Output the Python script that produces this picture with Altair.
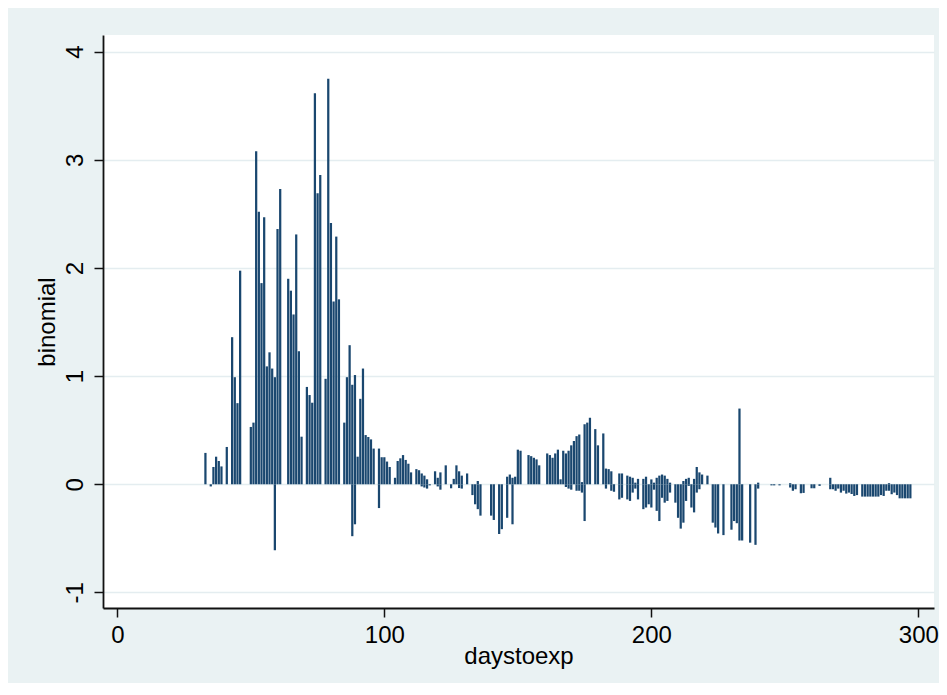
import altair as alt
import pandas as pd

# main observation per day (daystoexp, binomial)
days = [33, 35, 36, 37, 38, 39, 41, 43, 44, 45, 46,
        50, 51, 52, 53, 54, 55, 56, 57, 58, 59, 60, 61,
        64, 65, 66, 67, 68, 69, 71, 72, 73, 74, 75, 76, 78, 79, 80, 81, 82, 83,
        85, 86, 87, 88, 89, 90, 91, 92, 93, 94, 95, 96,
        98, 99, 100, 101, 102, 104, 105, 106, 107, 108, 109, 110,
        112, 113, 114, 115, 116, 117, 119, 120, 121, 123, 125, 126, 127, 128, 129, 131,
        133, 134, 135, 136, 140, 141, 143, 144,
        146, 147, 148, 149, 150, 151, 154, 155, 156, 157, 158,
        161, 162, 163, 164, 165, 166, 167, 168, 169, 170, 171, 172, 173, 174,
        175, 176, 177, 179, 180, 182, 183, 184, 185, 186,
        188, 189, 191, 192, 193, 194, 195, 197, 198, 199, 200, 201,
        202, 203, 204, 205, 206, 207, 209, 210, 211, 212, 213, 214, 215, 216, 217, 218, 219, 221,
        223, 224, 225, 227, 230, 231, 232, 233, 234, 237, 239, 240,
        245, 246, 248, 252, 253, 254, 256, 257, 260, 261, 263,
        267, 268, 269, 270, 271, 272, 273, 274, 275, 276, 277,
        279, 280, 281, 282, 283, 284, 285,
        286, 287, 288, 289, 290, 291, 292, 293, 294, 295, 296, 297]
values = [0.29, -0.02, 0.16, 0.255, 0.215, 0.165, 0.345, 1.36, 0.99, 0.75, 1.975,
          0.53, 0.57, 3.08, 2.52, 1.86, 2.47, 1.09, 1.22, 1.07, 0.99, 2.36, 2.73,
          1.90, 1.79, 1.57, 2.31, 1.23, 0.44, 0.90, 0.825, 0.754, 3.615, 2.69, 2.86, 0.975, 3.75, 2.415, 1.69, 2.29, 1.71,
          0.57, 0.99, 1.286, 0.92, 1.01, 0.255, 0.79, 1.07, 0.455, 0.437, 0.415, 0.33,
          0.33, 0.25, 0.25, 0.21, 0.16, 0.06, 0.215, 0.24, 0.27, 0.225, 0.19, 0.11,
          0.14, 0.13, 0.10, 0.08, 0.046, -0.01, 0.12, 0.06, 0.11, 0.175, -0.037, 0.05, 0.175, 0.12, 0.08, 0.10,
          -0.10, -0.185, -0.23, -0.29, -0.29, -0.33, -0.46, -0.415,
          0.07, 0.09, 0.06, 0.07, 0.32, 0.31, 0.27, 0.26, 0.245, 0.23, 0.175,
          0.285, 0.27, 0.245, 0.285, 0.32, 0.046, 0.31, 0.285, 0.31, 0.36, 0.40, 0.445, 0.46, 0.02,
          0.555, 0.57, 0.615, 0.51, 0.36, 0.47, 0.145, 0.14, 0.12, -0.07,
          0.10, 0.10, 0.08, 0.07, 0.06, 0.015, 0.05, 0.05, 0.07, -0.185, 0.045, 0.015,
          0.06, 0.08, 0.09, 0.08, 0.05, 0.015, -0.17, -0.31, -0.41, 0.03, 0.05, 0.06, -0.215, 0.05, 0.16, 0.11, 0.09, 0.08,
          -0.355, -0.40, -0.455, -0.47, -0.42, -0.34, -0.36, 0.70, -0.52, -0.54, -0.56, 0.015,
          -0.01, -0.01, -0.01, 0.01, -0.06, -0.046, -0.083, -0.08, -0.037, -0.037, -0.015,
          0.06, -0.046, -0.06, -0.04, -0.077, -0.06, -0.086, -0.077, -0.09, -0.108, -0.10,
          -0.114, -0.114, -0.114, -0.114, -0.114, -0.114, -0.114,
          -0.10, -0.108, -0.06, -0.06, -0.092, -0.077, -0.10, -0.13, -0.13, -0.13, -0.13, -0.13]

# second observation on days that have two values
days_b = [59, 88, 89, 98, 114, 115, 116, 120, 121, 128, 129, 135, 146, 148,
          168, 169, 170, 172, 173, 174, 175, 183, 185, 188, 189, 191, 192, 193, 194, 195,
          197, 198, 200, 201, 202, 203, 204, 205, 206, 207, 212, 213, 214, 216, 217, 218,
          233, 240, 252, 267, 289]
values_b = [-0.61, -0.48, -0.37, -0.22, -0.02, -0.03, -0.04, -0.02, -0.05, -0.035, -0.04, 0.03, -0.31, -0.37,
            -0.025, -0.04, -0.05, -0.06, -0.06, -0.077, -0.34, -0.04, -0.06, -0.14, -0.125, -0.14, -0.154, -0.077, -0.04, -0.14,
            -0.23, -0.215, -0.215, -0.05, -0.246, -0.34, -0.125, -0.17, -0.154, -0.077, -0.355, -0.154, -0.015, -0.26, -0.077, -0.046,
            -0.52, -0.04, -0.03, -0.046, 0.01]

x_ticks = [0, 100, 200, 300]
y_ticks = [-1, 0, 1, 2, 3, 4]

df = pd.DataFrame({"daystoexp": days + days_b, "binomial": values + values_b})
df["left"] = df["daystoexp"] - 0.42
df["right"] = df["daystoexp"] + 0.42
df["base"] = 0.0

FONT = "Liberation Sans"

bars = alt.Chart(df).mark_bar(color="#1A476F").encode(
    x=alt.X("left:Q",
            scale=alt.Scale(domain=[-5.36, 305.85], nice=False, zero=False),
            axis=alt.Axis(values=x_ticks, title="daystoexp", grid=False,
                          tickSize=9, labelPadding=6, labelExpr="'' + datum.value",
                          titleY=55, titleBaseline="alphabetic")),
    x2="right:Q",
    y=alt.Y("binomial:Q",
            scale=alt.Scale(domain=[-1.144, 4.154], nice=False, zero=False),
            axis=alt.Axis(values=y_ticks, title="binomial", grid=True,
                          tickSize=9, labelAngle=270, labelAlign="center",
                          labelBaseline="alphabetic", labelPadding=12,
                          labelExpr="'' + datum.value",
                          titleX=-49, titleBaseline="alphabetic", titleAngle=270)),
    y2="base:Q",
)

chart = bars.properties(
    width=831, height=573,
    autosize=alt.AutoSizeParams(type="none"),
    padding={"left": 95, "top": 27, "right": 5, "bottom": 75},
    background="#EAF2F3",
).configure_view(
    fill="white", strokeWidth=0
).configure_axis(
    domainColor="#111111", domainWidth=1.8,
    tickColor="#111111", tickWidth=1.5,
    gridColor="#E4EDF0", gridWidth=1.5,
    labelFont=FONT, labelFontSize=24, labelColor="#000000",
    titleFont=FONT, titleFontSize=24, titleColor="#000000", titleFontWeight="normal",
)

chart.save("out.html", embed_options={"renderer": "svg", "actions": False})
